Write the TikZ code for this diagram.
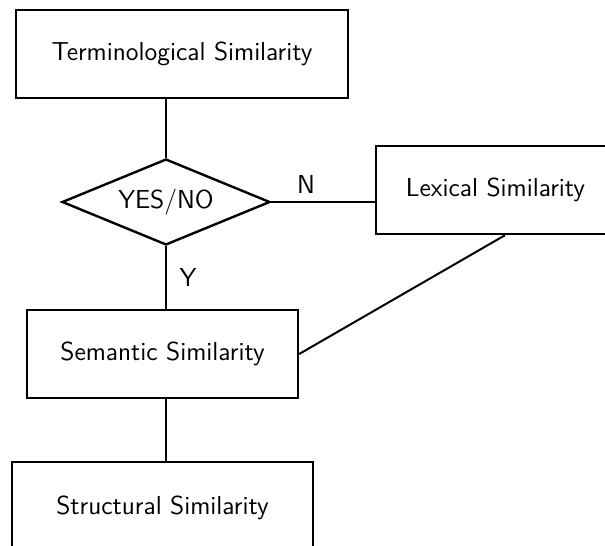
\documentclass[tikz,border=0pt]{standalone}
\usetikzlibrary{shapes.geometric,calc}
\begin{document}
\begin{tikzpicture}[x=0.5pt,y=-0.5pt,
  every node/.style={font=\sffamily\fontsize{13}{15}\selectfont},
  simbox/.style={draw,line width=1.2pt,rectangle,inner sep=0pt,
    minimum width=#1,minimum height=44pt},
  choice/.style={draw,line width=1.2pt,diamond,shape aspect=2.42,inner sep=0pt,
    minimum width=104pt,minimum height=43pt},
  link/.style={line width=1pt},
  tag/.style={inner sep=0pt}]
\clip (0,0) rectangle (605,546);
\fill[white] (0,0) rectangle (605,546);

% boxes
\node[simbox=166pt] (term) at (182,54) {Terminological Similarity};
\node[choice] (dec) at (166,202) {YES/NO};
\node[simbox=119.5pt] (lex) at (495.5,190) {Lexical Similarity};
\node[simbox=135.5pt] (sem) at (162.5,354) {Semantic Similarity};
\node[simbox=150.5pt,minimum height=46pt] (struct) at (162.5,508) {Structural Similarity};

% connectors
\draw[link] (dec.north) -- (dec.north |- term.south);
\draw[link] (dec.east) -- (dec.east -| lex.west);
\draw[link] (dec.south) -- (dec.south |- sem.north);
\draw[link] ($(lex.south)+(9.5,0)$) -- (sem.east);
\draw[link] (dec.south |- sem.south) -- (dec.south |- struct.north);

% branch labels
\node[tag] (n) at (306,184) {N};
\node[tag] (y) at (188,277) {Y};
\end{tikzpicture}
\end{document}
